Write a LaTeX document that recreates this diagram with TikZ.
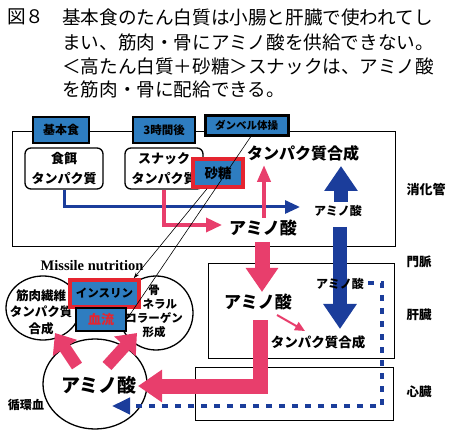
\documentclass[tikz,border=0pt]{standalone}
\usepackage{fontspec}
\newfontfamily\jp{Noto Sans CJK JP}
\newfontfamily\ser{Liberation Serif}
\usetikzlibrary{arrows.meta,shapes.geometric}
\definecolor{boxblue}{HTML}{2E7DC0}
\definecolor{navy}{HTML}{1B3D9B}
\definecolor{pinkc}{HTML}{E83E6C}
\definecolor{redc}{HTML}{E52530}
\newcommand\fsz[2]{\fontsize{#1}{#2}\selectfont}
\begin{document}
\begin{tikzpicture}[x=1pt,y=-1pt,
  lbl/.style={inner sep=0pt, font=\jp\bfseries},
  region/.style={draw=black, line width=1.3pt, inner sep=0pt, anchor=north west},
  bluebox/.style={draw=black, fill=boxblue, line width=1.2pt, inner sep=0pt},
  redbox/.style={draw=redc, fill=boxblue, line width=3.5pt, inner sep=0pt},
  foodbox/.style={draw=black, fill=white, line width=1.3pt, rounded corners=6pt, inner sep=0pt, minimum width=78pt, minimum height=41pt, align=center, font=\jp\bfseries\fsz{13}{20}},
  circ/.style={ellipse, draw=black, line width=1.3pt, inner sep=0pt},
  pinkthin/.style={draw=pinkc, line width=3.5pt, -{Triangle[width=14pt,length=16pt]}},
  bluethin/.style={draw=navy, line width=3pt, -{Triangle[width=13pt,length=15pt]}},
  pinkthick/.style={draw=pinkc, line width=15pt, line join=miter, -{Triangle[width=31pt,length=24pt]}},
  bluethick/.style={draw=navy, line width=14pt, -{Triangle[width=32pt,length=25pt]}},
  pinkmid/.style={draw=pinkc, line width=12pt, -{Triangle[width=28pt,length=18pt]}},
  pointer/.style={draw=black, line width=0.6pt, -{Stealth[length=6pt,width=4pt]}},
  bluedash/.style={draw=navy, line width=4pt, dash pattern=on 6pt off 7pt, -{Triangle[width=16pt,length=18pt]}}
]
\useasboundingbox (0,0) rectangle (452,435);
% title
\node[anchor=west, inner sep=0pt, font=\jp\fsz{18.6}{24}] (fig) at (7,17) {図８};
\node[anchor=west, inner sep=0pt, font=\jp\fsz{18.6}{24}] (t1) at (62,17) {基本食のたん白質は小腸と肝臓で使われてし};
\node[anchor=west, inner sep=0pt, font=\jp\fsz{18.6}{24}] (t2) at (62,42) {まい、筋肉・骨にアミノ酸を供給できない。};
\node[anchor=west, inner sep=0pt, font=\jp\fsz{18.6}{24}] (t3) at (62,66) {＜高たん白質＋砂糖＞スナックは、アミノ酸};
\node[anchor=west, inner sep=0pt, font=\jp\fsz{18.6}{24}] (t4) at (62,89) {を筋肉・骨に配給できる。};
% regions
\node[region, minimum width=383pt, minimum height=115pt] (gut) at (12,131) {};
\node[region, minimum width=186pt, minimum height=95pt] (liver) at (208,263) {};
\node[region, minimum width=198pt, minimum height=53pt] (heart) at (195,367) {};
% circles
\node[circ, minimum width=74pt, minimum height=64pt] (muscle) at (43,308) {};
\node[circ, minimum width=74pt, minimum height=74pt] (bone) at (156,313) {};
\node[circ, fill=white, minimum width=104pt, minimum height=90pt] (amino) at (95,384) {};
% header boxes
\node[bluebox, minimum width=56pt, minimum height=26pt, font=\jp\bfseries\fsz{12}{12}] (kihon) at (61,130) {基本食};
\node[bluebox, minimum width=62pt, minimum height=26pt, font=\jp\bfseries\fsz{11.5}{12}] (jikan) at (164,130) {3時間後};
\node[bluebox, line width=3pt, minimum width=83pt, minimum height=20pt, font=\jp\bfseries\fsz{10.5}{11}] (dumbbell) at (246.5,125.5) {ダンベル体操};
% food boxes
\node[foodbox] (shokuji) at (64,168.5) {食餌\\タンパク質};
\node[foodbox] (snack) at (164,168.5) {スナック\\タンパク質};
% thin arrows in gut
\coordinate (bluetip) at (300,207);
\coordinate (pinktip) at (222,225);
\draw[bluethin] (shokuji.south) |- (bluetip);
\draw[pinkthin] (snack.south) |- (pinktip);
\node[redbox, minimum width=50pt, minimum height=28pt, font=\jp\bfseries\fsz{13.5}{14}] (sugar) at (218,173) {砂糖};
\coordinate (pupbot) at (264,218);
\coordinate (puptop) at (264,165);
\draw[draw=pinkc, line width=4pt, -{Triangle[width=13pt,length=17pt]}] (pupbot) -- (puptop);
% thick arrows
\coordinate (bupbot) at (341,202);
\coordinate (buptop) at (341,166);
\draw[bluethick] (bupbot) -- (buptop);
\coordinate (bdtop) at (340,227);
\coordinate (bdtip) at (340,329);
\draw[bluethick] (bdtop) -- (bdtip);
\coordinate (pdtop) at (262,242);
\coordinate (pdtip) at (262,292);
\draw[pinkthick] (pdtop) -- (pdtip);
\coordinate (Ltop) at (260.5,320);
\coordinate (Lcorner) at (260.5,386);
\coordinate (Ltip) at (138,386);
\draw[pinkthick] (Ltop) -- (Lcorner) -- (Ltip);
% dashed blue
\coordinate (d1) at (368,283);
\coordinate (d2) at (382,283);
\coordinate (d3) at (382,406);
\coordinate (d4) at (112,406);
\draw[bluedash] (d1) -- (d2) -- (d3) -- (d4);
% liver small arrow
\coordinate (ls1) at (277,315);
\coordinate (ls2) at (305,331);
\draw[draw=pinkc, line width=2pt, -{Triangle[width=9pt,length=10pt]}] (ls1) -- (ls2);
% arrows from amino circle
\coordinate (al1) at (77,366);
\coordinate (al2) at (55,333);
\coordinate (ar1) at (107,366);
\coordinate (ar2) at (137,333);
\draw[pinkmid] (al1) -- (al2);
\draw[pinkmid] (ar1) -- (ar2);
% texts
\node[lbl, font=\jp\bfseries\fsz{16}{16}] (tpc1) at (303,153) {タンパク質合成};
\node[lbl, font=\jp\bfseries\fsz{17}{17}] (am1) at (263,228) {アミノ酸};
\node[lbl, font=\jp\bfseries\fsz{12}{12}] (am1s) at (338,211) {アミノ酸};
\node[lbl, font=\jp\bfseries\fsz{13}{13}] (gutname) at (426,190) {消化管};
\node[lbl, font=\jp\bfseries\fsz{12.5}{13}] (portal) at (419,262) {門脈};
\node[lbl, font=\jp\bfseries\fsz{12.5}{13}] (livname) at (419,315) {肝臓};
\node[lbl, font=\jp\bfseries\fsz{12.5}{13}] (heartname) at (419,392) {心臓};
\node[lbl, font=\jp\bfseries\fsz{12}{12}] (blood2) at (26,405) {循環血};
\node[lbl, font=\jp\bfseries\fsz{17}{17}] (am2) at (258,302) {アミノ酸};
\node[lbl, font=\jp\bfseries\fsz{12}{12}] (am2s) at (340,284) {アミノ酸};
\node[lbl, font=\jp\bfseries\fsz{13.5}{14}] (tpc2) at (318,342) {タンパク質合成};
\node[lbl, font=\jp\bfseries\fsz{19}{19}] (am3) at (99,385) {アミノ酸};
\node[inner sep=0pt, font=\ser\bfseries\fsz{14.5}{15}] (missile) at (92,266) {Missile nutrition};
\node[lbl, align=center, font=\jp\bfseries\fsz{12.5}{16.5}] (mtext) at (41,312) {筋肉繊維\\タンパク質\\合成};
\node[lbl, align=center, font=\jp\bfseries\fsz{11.5}{14}] (btext) at (154,311) {骨\\ミネラル\\コラーゲン\\形成};
% insulin and blood boxes
\node[redbox, minimum width=69pt, minimum height=27pt, font=\jp\bfseries\fsz{11.5}{12}] (insulin) at (104.5,293.5) {インスリン};
\node[bluebox, minimum width=50pt, minimum height=23pt, font=\jp\bfseries\fsz{13}{13}, text=redc] (blood) at (101,319.5) {血流};
% pointers
\draw[pointer] ([xshift=4pt]dumbbell.south) -- (blood.east);
\draw[pointer] ([xshift=-11pt]sugar.south) -- ([xshift=-7pt]insulin.north east);
\end{tikzpicture}
\end{document}
